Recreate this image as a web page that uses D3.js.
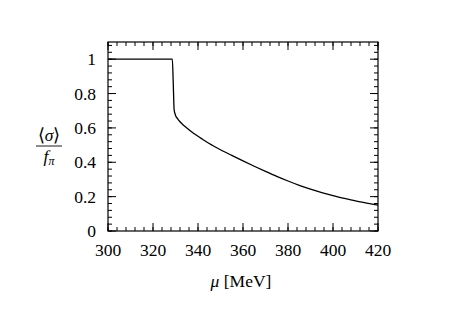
<!DOCTYPE html>
<html>
<head>
<meta charset="utf-8">
<script src="https://cdn.jsdelivr.net/npm/d3@7"></script>
<style>
  body { margin: 0; background: #fff; }
  svg text { font-family: "Liberation Serif", "Times New Roman", serif; fill: #000; }
</style>
</head>
<body>
<div id="chart"></div>
<script>
// values
var mu = [300, 328.6, 329.0, 329.4, 330, 331, 332, 334, 336, 338, 340, 342, 345, 350, 355, 360, 365, 370, 375, 380, 385, 390, 395, 400, 405, 410, 415, 420];
var sigma = [1.0, 1.0, 0.86, 0.705, 0.674, 0.653, 0.636, 0.611, 0.589, 0.569, 0.551, 0.534, 0.509, 0.473, 0.44, 0.408, 0.377, 0.347, 0.318, 0.291, 0.266, 0.244, 0.224, 0.206, 0.19, 0.175, 0.162, 0.15];
var xTicks = [300, 320, 340, 360, 380, 400, 420];
var yTicks = [0, 0.2, 0.4, 0.6, 0.8, 1];

var width = 463, height = 327;
var margin = {left: 108, right: 85, top: 42, bottom: 96};
var w = width - margin.left - margin.right;
var h = height - margin.top - margin.bottom;

var svg = d3.select("#chart").append("svg")
    .attr("width", width)
    .attr("height", height);

var g = svg.append("g")
    .attr("transform", "translate(" + margin.left + "," + margin.top + ")");

var x = d3.scaleLinear().domain([300, 420]).range([0, w]);
var y = d3.scaleLinear().domain([0, 1.1]).range([h, 0]);

var xMinor = d3.range(300, 421, 4);
var yMinor = d3.range(0, 1.1001, 0.04);

function ticks(sel, vals, len, scale, side) {
    sel.selectAll("line")
        .data(vals)
        .enter().append("line")
        .attr("stroke", "#000")
        .attr("stroke-width", 1)
        .attr("x1", function (d) { return side == "b" || side == "t" ? scale(d) : (side == "l" ? 0 : w); })
        .attr("x2", function (d) { return side == "b" || side == "t" ? scale(d) : (side == "l" ? len : w - len); })
        .attr("y1", function (d) { return side == "l" || side == "r" ? scale(d) : (side == "b" ? h : 0); })
        .attr("y2", function (d) { return side == "l" || side == "r" ? scale(d) : (side == "b" ? h - len : len); });
}

["b", "t"].forEach(function (s) {
    ticks(g.append("g"), xMinor, 4, x, s);
    ticks(g.append("g"), xTicks, 8, x, s);
});
["l", "r"].forEach(function (s) {
    ticks(g.append("g"), yMinor, 4, y, s);
    ticks(g.append("g"), yTicks, 8, y, s);
});

g.append("rect")
    .attr("width", w)
    .attr("height", h)
    .attr("fill", "none")
    .attr("stroke", "#000")
    .attr("stroke-width", 1.2);

g.selectAll(".xl")
    .data(xTicks)
    .enter().append("text")
    .attr("class", "xl")
    .attr("x", function (d) { return x(d); })
    .attr("y", h + 25)
    .attr("text-anchor", "middle")
    .style("font-size", "17.5px")
    .text(function (d) { return d; });

g.selectAll(".yl")
    .data(yTicks)
    .enter().append("text")
    .attr("class", "yl")
    .attr("x", -12)
    .attr("y", function (d) { return y(d) + 6; })
    .attr("text-anchor", "end")
    .style("font-size", "17.5px")
    .text(function (d) { return d; });

var line = d3.line()
    .x(function (d, i) { return x(mu[i]); })
    .y(function (d, i) { return y(sigma[i]); })
    .curve(d3.curveMonotoneX);

g.append("path")
    .datum(sigma)
    .attr("fill", "none")
    .attr("stroke", "#000")
    .attr("stroke-width", 1.3)
    .attr("d", line);

// axis titles
var xt = svg.append("text")
    .attr("x", 241)
    .attr("y", 287)
    .attr("text-anchor", "middle")
    .style("font-size", "17.5px");
xt.append("tspan").style("font-style", "italic").text("μ");
xt.append("tspan").text(" [MeV]");

var yt = svg.append("g").attr("transform", "translate(49,146)");
var num = yt.append("text")
    .attr("y", -5)
    .attr("text-anchor", "middle")
    .style("font-size", "17.5px");
num.append("tspan").text("⟨");
num.append("tspan").style("font-style", "italic").text("σ");
num.append("tspan").text("⟩");
yt.append("line")
    .attr("x1", -13).attr("x2", 13)
    .attr("stroke", "#000").attr("stroke-width", 0.9);
var den = yt.append("text")
    .attr("y", 16)
    .attr("text-anchor", "middle")
    .style("font-size", "17.5px");
den.append("tspan").style("font-style", "italic").text("f");
den.append("tspan").style("font-style", "italic").style("font-size", "12px").attr("dy", 3).text("π");
</script>
</body>
</html>
